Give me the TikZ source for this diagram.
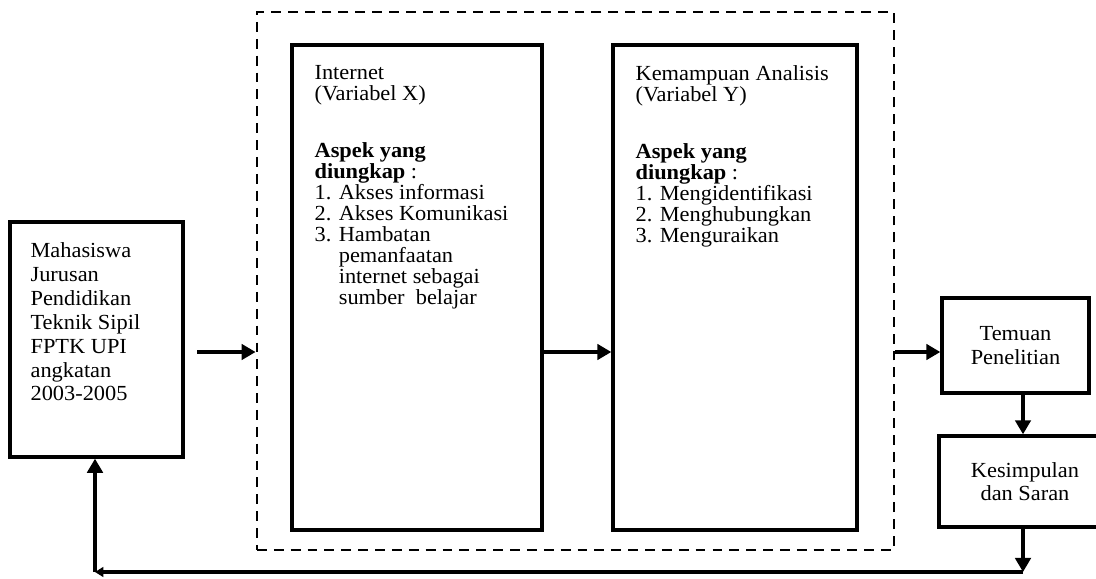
\documentclass[tikz,border=0pt]{standalone}
\usepackage{fontspec}
\setmainfont{Liberation Serif}[FakeStretch=1.04]
\usepackage{tikz}
\usetikzlibrary{arrows.meta, positioning}

\begin{document}
\begin{tikzpicture}[
  box/.style={draw, line width=2.4pt, inner sep=0pt},
  frame/.style={draw, line width=2pt, dash pattern=on 7pt off 5pt, inner sep=0pt},
  txt/.style={anchor=north west, inner sep=0pt, align=left, font=\fontsize{15.3}{14.9}\selectfont},
  ctxt/.style={align=center, font=\fontsize{15.3}{16.5}\selectfont},
  arr/.style={line width=2.4pt, -{Triangle[length=10pt, width=11pt]}}
]
  \useasboundingbox (0,0) rectangle (27.4,14.45);

  % Dashed frame round both variables
  \node[frame, minimum width=15.925cm, minimum height=13.45cm] (frame) at (14.3875,7.425) {};

  % Boxes
  \node[box, minimum width=4.325cm, minimum height=5.875cm] (mhs) at (2.4125,5.9625) {};
  \node[box, minimum width=6.25cm, minimum height=12.125cm] (inet) at (10.425,7.2625) {};
  \node[box, minimum width=6.1cm, minimum height=12.125cm] (kem) at (18.375,7.2625) {};
  \node[box, ctxt, minimum width=3.675cm, minimum height=2.375cm] (tem) at (25.3875,5.8125) {Temuan\\Penelitian};
  \node[box, ctxt, minimum width=4.3cm, minimum height=2.275cm] (kes) at (25.625,2.4125) {Kesimpulan\\dan Saran};

  % Box texts
  \node[txt, font=\fontsize{15.3}{17}\selectfont] (mhstxt) at ([shift={(0.55,-0.55)}]mhs.north west)
    {Mahasiswa\\Jurusan\\Pendidikan\\Teknik Sipil\\FPTK UPI\\angkatan\\2003-2005};
  \node[txt] (inettxt) at ([shift={(0.6,-0.55)}]inet.north west)
    {Internet\\(Variabel X)\\[0.9cm]
     \textbf{Aspek yang}\\\textbf{diungkap} :\\
     1. Akses informasi\\2. Akses Komunikasi\\3. Hambatan\\
     \phantom{3. }pemanfaatan\\\phantom{3. }internet sebagai\\\phantom{3. }sumber~ belajar};
  \node[txt] (kemtxt) at ([shift={(0.6,-0.55)}]kem.north west)
    {Kemampuan Analisis\\(Variabel Y)\\[0.9cm]
     \textbf{Aspek yang}\\\textbf{diungkap} :\\
     1. Mengidentifikasi\\2. Menghubungkan\\3. Menguraikan};

  % Connectors
  \coordinate (s1) at (4.925,5.65);
  \coordinate (c1) at (25.575,0.15);
  \coordinate (c2) at (2.375,0.15);
  \draw[arr] (s1) -- (s1 -| frame.west);
  \draw[arr] (inet.east |- s1) -- (kem.west |- s1);
  \draw[arr] (frame.east |- s1) -- (tem.west |- s1);
  \draw[arr] (tem.south -| c1) -- (kes.north -| c1);
  \draw[arr] (kes.south -| c1) -- (c1);
  \draw[line width=2.4pt, -{Triangle[length=6pt, width=7pt]}] (c1) -- (c2);
  \draw[arr] (c2) -- (c2 |- mhs.south);

\end{tikzpicture}
\end{document}
